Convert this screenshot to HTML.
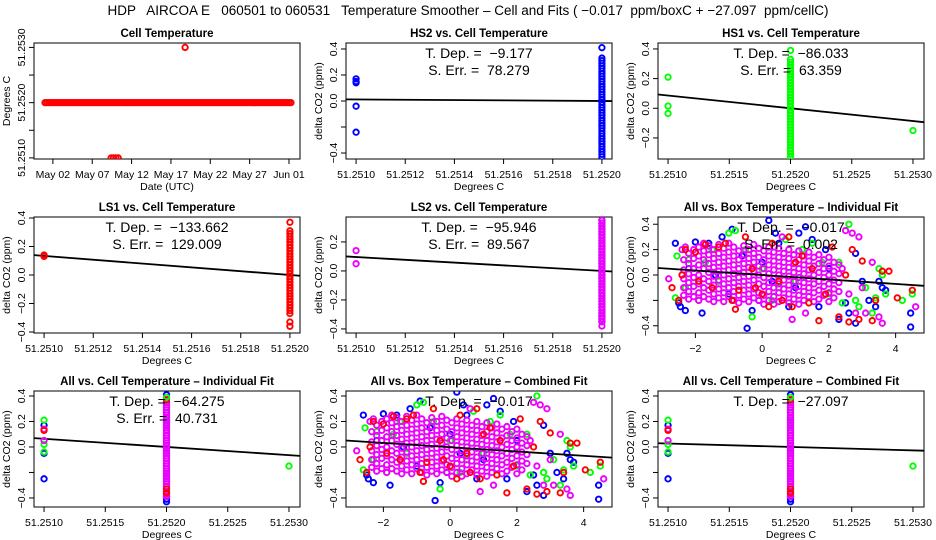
<!DOCTYPE html>
<html><head><meta charset="utf-8">
<style>
html,body{margin:0;padding:0;background:#fff;}
svg{display:block;font-family:"Liberation Sans",Arial,sans-serif;}
text{white-space:pre;}
</style></head>
<body>
<svg id="fig" width="936" height="540" viewBox="0 0 936 540">
<rect width="936" height="540" fill="#fff"/>
<text x="468" y="15" text-anchor="middle" font-size="13.5" fill="#000" xml:space="preserve">HDP   AIRCOA E   060501 to 060531   Temperature Smoother – Cell and Fits ( −0.017  ppm/boxC + −27.097  ppm/cellC)</text>
</svg>
<script>
// ---------- data ----------
const dateTickDays = [1,6,11,16,21,26,31];
const dateTickLabels = ["May 02","May 07","May 12","May 17","May 22","May 27","Jun 01"];
const cellDays = [0,0.5,1,1.5,2,2.5,3,3.5,4,4.5,5,5.5,6,6.5,7,7.5,8,8.5,9,9.5,10,10.5,11,11.5,12,12.5,13,13.5,14,14.5,15,15.5,16,16.5,17,17.5,18,18.5,19,19.5,20,20.5,21,21.5,22,22.5,23,23.5,24,24.5,25,25.5,26,26.5,27,27.5,28,28.5,29,29.5,30,30.5,31];
const cellVals = [51.252,51.252,51.252,51.252,51.252,51.252,51.252,51.252,51.252,51.252,51.252,51.252,51.252,51.252,51.252,51.252,51.252,51.252,51.252,51.252,51.252,51.252,51.252,51.252,51.252,51.252,51.252,51.252,51.252,51.252,51.252,51.252,51.252,51.252,51.252,51.252,51.252,51.252,51.252,51.252,51.252,51.252,51.252,51.252,51.252,51.252,51.252,51.252,51.252,51.252,51.252,51.252,51.252,51.252,51.252,51.252,51.252,51.252,51.252,51.252,51.252,51.252,51.252];
const cellExtraDays = [8.4,8.7,9.0,9.3,17.8];
const cellExtraVals = [51.251,51.251,51.251,51.251,51.253];

const bandY = [-0.43,-0.41,-0.39,-0.37,-0.35,-0.33,-0.31,-0.29,-0.27,-0.25,-0.23,-0.21,-0.19,-0.17,-0.15,-0.13,-0.11,-0.09,-0.07,-0.05,-0.03,-0.01,0.01,0.03,0.05,0.07,0.09,0.11,0.13,0.15,0.17,0.19,0.21,0.23,0.25,0.27,0.29,0.31,0.33,0.35];

const hs2Low = [0.17,0.15,0.14,-0.04,-0.24];
const hs1Low = [0.21,0.015,-0.035];
const hs1High = [-0.15];
const ls1Low = [0.14,0.13];
const ls2Low = [0.14,0.05];
const allLowBlue = [0.17,-0.05,-0.25];
const allLowGreen = [0.21,0.02,-0.04];
const allLowMag = [0.14,0.05];
const allLowRed = [0.13];

const bluePts = [[-2.6,0.25],[-2.5,-0.22],[-2.45,-0.25],[-2.3,-0.28],[-2,0.26],[-1.8,-0.3],[-1.6,0.25],[-1.2,0.3],[-0.9,0.36],[-0.45,-0.42],[-0.3,-0.28],[0.2,0.43],[0.4,0.33],[0.5,0.25],[1.1,0.33],[1.3,0.38],[1.5,0.28],[1.9,0.2],[2.3,-0.35],[2.5,-0.22],[2.8,0.17],[2.8,-0.38],[3.2,-0.2],[3.6,-0.1],[4.45,-0.3],[4.45,-0.41],[-0.1,-0.2],[0.8,-0.25],[1.7,-0.25],[-1.4,0.0],[0,0.1],[2.0,0.05],[3.0,-0.05],[-2.2,0.05],[1.0,-0.1],[-0.6,0.15],[0.3,-0.05],[2.6,-0.3],[3.4,-0.25],[-1.0,-0.15],[3.5,-0.05],[3.7,-0.12]];
const greenPts = [[-2.55,0.15],[-2.6,-0.18],[-2.2,0.12],[-1.9,-0.2],[-1.5,0.2],[-1.0,0.33],[-0.8,0.35],[-0.3,-0.33],[0.3,-0.2],[0.7,0.28],[1.5,0.25],[1.8,0.1],[2.6,0.4],[2.3,0.1],[2.8,-0.2],[3.1,-0.1],[3.3,-0.3],[3.5,0.05],[3.7,-0.15],[4.2,-0.2],[4.5,-0.15],[-2.3,-0.1],[-1.3,-0.05],[0,0.05],[1.0,-0.05],[2.0,-0.15],[-0.5,0.2],[1.2,0.2],[2.9,-0.25],[3.6,0],[-1.7,0.1],[0.5,-0.1],[2.4,-0.22],[3.4,-0.18]];
const redPts = [[-2.7,-0.1],[-2.5,-0.2],[-2.3,0.2],[-2.0,0.18],[-1.7,0.24],[-1.3,0.22],[-1.1,0.25],[-0.8,-0.27],[-0.5,0.3],[-0.3,0.05],[0,-0.15],[0.3,0.25],[0.6,-0.2],[0.9,-0.25],[1.2,0.15],[1.5,0.05],[1.7,-0.36],[2.1,0.22],[2.3,-0.33],[2.6,-0.37],[2.9,-0.35],[3.0,0.11],[3.3,-0.36],[3.6,0.03],[3.8,0.03],[4.05,-0.18],[4.5,-0.12],[-1.5,-0.1],[-0.9,-0.2],[0.5,-0.05],[1.9,-0.15],[2.5,0.0],[3.4,-0.2],[-2.4,0.0],[1.0,0.1],[-0.2,-0.1],[0.8,0.3],[2.7,0.2],[-0.7,-0.12],[1.4,-0.22],[0.2,-0.25],[-1.9,-0.05]];
const magOuter = [[-2.8,-0.03],[-2.4,0.2],[-2.3,0.22],[2.7,0.33],[2.9,0.3],[3.3,0.1],[3.6,-0.38],[4.6,-0.25],[3.1,-0.3],[2.8,-0.3],[0.9,-0.35],[1.3,-0.3],[0.6,0.3],[2.5,0.35],[3.5,-0.33],[2.6,-0.15],[3.0,-0.1],[2.4,0.05]];
const magColX = [-2.35,-2.2,-2.05,-1.9,-1.75,-1.6,-1.45,-1.3,-1.15,-1.0,-0.85,-0.7,-0.55,-0.4,-0.25,-0.1,0.05,0.2,0.35,0.5,0.65,0.8,0.95,1.1,1.25,1.4,1.55,1.7,1.85,2.0,2.15,2.3];
const magColY = [
 [0.12,0.04,-0.03,-0.1,-0.16],[0.17,0.09,0.01,-0.06,-0.13,-0.19],[0.2,0.13,0.05,-0.02,-0.09,-0.17],[0.22,0.15,0.08,0.0,-0.07,-0.14,-0.2],
 [0.19,0.12,0.05,-0.03,-0.1,-0.17,0.25],[0.23,0.16,0.09,0.02,-0.05,-0.12,-0.19],[0.2,0.13,0.06,-0.01,-0.08,-0.15,-0.21],[0.24,0.17,0.1,0.03,-0.04,-0.11,-0.18],
 [0.21,0.14,0.07,0.0,-0.07,-0.14,-0.21],[0.25,0.18,0.11,0.04,-0.03,-0.1,-0.17],[0.22,0.15,0.08,0.01,-0.06,-0.13,-0.2],[0.19,0.12,0.05,-0.02,-0.09,-0.16,-0.22],
 [0.23,0.16,0.09,0.02,-0.05,-0.12,-0.19],[0.2,0.13,0.06,-0.01,-0.08,-0.15,-0.21],[0.24,0.17,0.1,0.03,-0.04,-0.11,-0.18],[0.21,0.14,0.07,0.0,-0.07,-0.14,-0.2],
 [0.19,0.12,0.05,-0.02,-0.09,-0.16,-0.23],[0.22,0.15,0.08,0.01,-0.06,-0.13,-0.2],[0.18,0.11,0.04,-0.03,-0.1,-0.17,-0.23],[0.21,0.14,0.07,0.0,-0.07,-0.14,-0.21],
 [0.17,0.1,0.03,-0.04,-0.11,-0.18],[0.2,0.13,0.06,-0.01,-0.08,-0.15,-0.22],[0.16,0.09,0.02,-0.05,-0.12,-0.19],[0.19,0.12,0.05,-0.02,-0.09,-0.16,-0.23],
 [0.15,0.08,0.01,-0.06,-0.13,-0.2],[0.18,0.11,0.04,-0.03,-0.1,-0.17],[0.14,0.07,0.0,-0.07,-0.14,-0.21],[0.16,0.09,0.02,-0.05,-0.12,-0.19],
 [0.12,0.05,-0.02,-0.09,-0.16],[0.14,0.07,0.0,-0.07,-0.14,-0.21],[0.1,0.03,-0.04,-0.11,-0.18],[0.08,0.01,-0.06,-0.13]
];

// fit endpoints: [y at first x, y at second x]
const fitP2 = [0.012,0.0];
const fitP3 = [0.086,0.0];
const fitP4 = [0.134,0.0];
const fitP5 = [0.096,0.0];
const fitBox6 = [-0.0176,0.0];
const fitBox8 = [-0.0168,-0.002];
const fitP7 = [0.064,0.0];
const fitP9 = [0.027,0.0];

const cellTicks2 = [51.2510,51.2512,51.2514,51.2516,51.2518,51.2520];
const cellTicks3 = [51.2510,51.2515,51.2520,51.2525,51.2530];
const boxTicks = [-2,0,2,4];
const boxTickLabels = ["−2","0","2","4"];

// ---------- drawing ----------
const NS = "http://www.w3.org/2000/svg";
const svg = document.getElementById("fig");
const COLX = [34,346,658], ROWY = [43,217,391], PW = 266, PH = 116;
const BLUE="#0000ff", GREEN="#00ff00", RED="#ff0000", MAG="#ee00ff";

function el(tag, attrs, parent){
  const e = document.createElementNS(NS, tag);
  for (const k in attrs) e.setAttribute(k, attrs[k]);
  (parent||svg).appendChild(e);
  return e;
}

function makePanel(c, r, o){
  const L = COLX[c], T = ROWY[r];
  const g = el("g", {});
  
  
  const sx = v => L + (v - o.xlim[0])/(o.xlim[1]-o.xlim[0])*PW;
  const sy = v => T + PH - (v - o.ylim[0])/(o.ylim[1]-o.ylim[0])*PH;
  const t = el("text", {x:L+PW/2, y:T-6, "text-anchor":"middle", "font-size":"11.5", "font-weight":"bold"}, g);
  t.textContent = o.title;
  
  
  const b = el("rect", {x:L, y:T, width:PW, height:PH, fill:"none", stroke:"#000", "stroke-width":1}, g);
  
  
  const xa = el("g", {}, g);
  
  
  o.xticks.forEach((v,i)=>{
    const x = sx(v);
    el("line", {x1:x, x2:x, y1:T+PH, y2:T+PH+5, stroke:"#000"}, xa);
    const tl = el("text", {x:x, y:T+PH+19, "text-anchor":"middle", "font-size":"10.5"}, xa);
    tl.textContent = o.xlabels[i];
    
    
  });
  const xt = el("text", {x:L+PW/2, y:T+PH+31, "text-anchor":"middle", "font-size":"10.5"}, g);
  xt.textContent = o.xtitle;
  
  
  const ya = el("g", {}, g);
  
  
  o.yticks.forEach((v,i)=>{
    const y = sy(v);
    el("line", {x1:L-5, x2:L, y1:y, y2:y, stroke:"#000"}, ya);
    if (o.ylabels[i]) {
      const tl = el("text", {x:L-9, y:y, "text-anchor":"middle", "font-size":"10.5", transform:`rotate(-90 ${L-9} ${y})`}, ya);
      tl.textContent = o.ylabels[i];
      
      
    }
  });
  const yt = el("text", {x:L-24, y:T+PH/2, "text-anchor":"middle", "font-size":"10.5", transform:`rotate(-90 ${L-24} ${T+PH/2})`}, g);
  yt.textContent = o.ytitle;
  
  
  const cid = "clip"+c+r;
  const cp = el("clipPath", {id:cid}, g);
  el("rect", {x:L, y:T, width:PW, height:PH}, cp);
  const pg = el("g", {"clip-path":`url(#${cid})`}, g);
  
  
  return {g, pg, sx, sy, L, T, xlim:o.xlim};
}
function pt(P, x, y, col, name){
  const cc = el("circle", {cx:P.sx(x), cy:P.sy(y), r:2.7, fill:"none", stroke:col, "stroke-width":1.9}, P.pg);
  
  
}
function band(P, x, lo, hi, col){
  bandY.forEach(v => { if (v>=lo && v<=hi) pt(P, x, v, col, 'band-point'); });
}
// line through (xa,ya),(xb,yb), extended over the whole x range
function fitLine(P, xa, ya, xb, yb){
  const s = (yb-ya)/(xb-xa);
  const x1 = P.xlim[0], x2 = P.xlim[1];
  const ln = el("line", {x1:P.sx(x1), y1:P.sy(ya+s*(x1-xa)), x2:P.sx(x2), y2:P.sy(ya+s*(x2-xa)), stroke:"#000", "stroke-width":1.8}, P.pg);
  
  
}
function stat(P, lines){
  lines.forEach((s,i)=>{
    const t = el("text", {x:P.L+PW/2, y:P.T+15+i*17, "text-anchor":"middle", "font-size":"14"}, P.g);
    t.textContent = s;
    
    
  });
}
const CX2 = [51.250959, 51.252041], CX3 = [51.250918, 51.25309];
const dyT = [-0.4,-0.2,0,0.2,0.4];
const c2lab = cellTicks2.map(v=>v.toFixed(4)), c3lab = cellTicks3.map(v=>v.toFixed(4));

{
  const P = makePanel(0,0,{name:"cell-temperature-panel", title:"Cell Temperature", xlim:[-1.4,32.4], ylim:[51.25098,51.25308],
    xticks:dateTickDays, xlabels:dateTickLabels, xtitle:"Date (UTC)", yticks:[51.251,51.2515,51.252,51.2525,51.253],
    ylabels:["51.2510","","51.2520","","51.2530"], ytitle:"Degrees C"});
  cellDays.forEach((d,i)=>{ pt(P, d, cellVals[i], RED, 'cell-temp-point'); pt(P, d+0.25, cellVals[i], RED, 'cell-temp-point'); });
  cellExtraDays.forEach((d,i)=> pt(P, d, cellExtraVals[i], RED, 'cell-temp-point'));
}
{
  const P = makePanel(1,0,{name:"hs2-panel", title:"HS2 vs. Cell Temperature", xlim:CX2, ylim:[-0.446,0.446],
    xticks:cellTicks2, xlabels:c2lab, xtitle:"Degrees C", yticks:dyT, ylabels:["−0.4","","0.0","0.2","0.4"], ytitle:"delta CO2 (ppm)"});
  fitLine(P, 51.251, fitP2[0], 51.252, fitP2[1]);
  hs2Low.forEach(v=>pt(P,51.251,v,BLUE,'hs2-point'));
  band(P,51.252,-0.43,0.34,BLUE); pt(P,51.252,0.41,BLUE,'hs2-point');
  stat(P, ["T. Dep. =  −9.177","S. Err. =  78.279"]);
}
{
  const P = makePanel(2,0,{name:"hs1-panel", title:"HS1 vs. Cell Temperature", xlim:CX3, ylim:[-0.342,0.44],
    xticks:cellTicks3, xlabels:c3lab, xtitle:"Degrees C", yticks:[-0.2,0,0.2,0.4], ylabels:["−0.2","0.0","0.2","0.4"], ytitle:"delta CO2 (ppm)"});
  fitLine(P, 51.251, fitP3[0], 51.252, fitP3[1]);
  hs1Low.forEach(v=>pt(P,51.251,v,GREEN,'hs1-point'));
  hs1High.forEach(v=>pt(P,51.253,v,GREEN,'hs1-point'));
  band(P,51.252,-0.33,0.34,GREEN); pt(P,51.252,0.39,GREEN,'hs1-point');
  stat(P, ["T. Dep. =  −86.033","S. Err. =  63.359"]);
}
{
  const P = makePanel(0,1,{name:"ls1-panel", title:"LS1 vs. Cell Temperature", xlim:CX2, ylim:[-0.407,0.407],
    xticks:cellTicks2, xlabels:c2lab, xtitle:"Degrees C", yticks:dyT, ylabels:["−0.4","−0.2","0.0","0.2","0.4"], ytitle:"delta CO2 (ppm)"});
  fitLine(P, 51.251, fitP4[0], 51.252, fitP4[1]);
  ls1Low.forEach(v=>pt(P,51.251,v,RED,'ls1-point'));
  band(P,51.252,-0.28,0.31,RED); [-0.33,-0.36,0.37].forEach(v=>pt(P,51.252,v,RED,'ls1-point'));
  stat(P, ["T. Dep. =  −133.662","S. Err. =  129.009"]);
}
{
  const P = makePanel(1,1,{name:"ls2-panel", title:"LS2 vs. Cell Temperature", xlim:CX2, ylim:[-0.428,0.372],
    xticks:cellTicks2, xlabels:c2lab, xtitle:"Degrees C", yticks:[-0.4,-0.2,0,0.2], ylabels:["−0.4","−0.2","0.0","0.2"], ytitle:"delta CO2 (ppm)"});
  fitLine(P, 51.251, fitP5[0], 51.252, fitP5[1]);
  ls2Low.forEach(v=>pt(P,51.251,v,MAG,'ls2-point'));
  band(P,51.252,-0.35,0.35,BLUE); band(P,51.252,-0.35,0.35,MAG); pt(P,51.252,-0.38,MAG,'ls2-point');
  stat(P, ["T. Dep. =  −95.946","S. Err. =  89.567"]);
}
function boxScatter(P){
  bluePts.forEach(p=>pt(P,p[0],p[1],BLUE,'blue-point'));
  greenPts.forEach(p=>pt(P,p[0],p[1],GREEN,'green-point'));
  magColX.forEach((x,i)=>magColY[i].forEach(y=>pt(P,x,y,MAG,'magenta-point')));
  magOuter.forEach(p=>pt(P,p[0],p[1],MAG,'magenta-point'));
  redPts.forEach(p=>pt(P,p[0],p[1],RED,'red-point'));
}
const BX = [-3.12,4.85];
{
  const P = makePanel(2,1,{name:"all-box-individual-panel", title:"All vs. Box Temperature – Individual Fit", xlim:BX, ylim:[-0.457,0.457],
    xticks:boxTicks, xlabels:boxTickLabels, xtitle:"Degrees C", yticks:dyT, ylabels:["−0.4","","0.0","0.2","0.4"], ytitle:"delta CO2 (ppm)"});
  boxScatter(P);
  fitLine(P, 0, fitBox6[1], 1, fitBox6[1]+fitBox6[0]);
  stat(P, ["T. Dep. =  −0.017","S. Err. =  0.002"]);
}
{
  const P = makePanel(0,2,{name:"all-cell-individual-panel", title:"All vs. Cell Temperature – Individual Fit", xlim:CX3, ylim:[-0.471,0.439],
    xticks:cellTicks3, xlabels:c3lab, xtitle:"Degrees C", yticks:dyT, ylabels:["−0.4","","0.0","0.2","0.4"], ytitle:"delta CO2 (ppm)"});
  fitLine(P, 51.251, fitP7[0], 51.252, fitP7[1]);
  allLowBlue.forEach(v=>pt(P,51.251,v,BLUE,'blue-point'));
  allLowGreen.forEach(v=>pt(P,51.251,v,GREEN,'green-point'));
  allLowMag.forEach(v=>pt(P,51.251,v,MAG,'magenta-point'));
  allLowRed.forEach(v=>pt(P,51.251,v,RED,'red-point'));
  band(P,51.252,-0.43,0.35,BLUE); pt(P,51.252,0.41,BLUE,'blue-point');
  band(P,51.252,-0.39,0.35,MAG); [-0.33,-0.36,0.37].forEach(v=>pt(P,51.252,v,RED,'red-point')); pt(P,51.252,0.39,GREEN,'green-point');
  pt(P,51.253,-0.15,GREEN,'green-point');
  stat(P, ["T. Dep. =  −64.275","S. Err. =  40.731"]);
}
{
  const P = makePanel(1,2,{name:"all-box-combined-panel", title:"All vs. Box Temperature – Combined Fit", xlim:BX, ylim:[-0.471,0.439],
    xticks:boxTicks, xlabels:boxTickLabels, xtitle:"Degrees C", yticks:dyT, ylabels:["−0.4","","0.0","0.2","0.4"], ytitle:"delta CO2 (ppm)"});
  boxScatter(P);
  fitLine(P, 0, fitBox8[1], 1, fitBox8[1]+fitBox8[0]);
  stat(P, ["T. Dep. =  −0.017"]);
}
{
  const P = makePanel(2,2,{name:"all-cell-combined-panel", title:"All vs. Cell Temperature – Combined Fit", xlim:CX3, ylim:[-0.471,0.439],
    xticks:cellTicks3, xlabels:c3lab, xtitle:"Degrees C", yticks:dyT, ylabels:["−0.4","","0.0","0.2","0.4"], ytitle:"delta CO2 (ppm)"});
  fitLine(P, 51.251, fitP9[0], 51.252, fitP9[1]);
  allLowBlue.forEach(v=>pt(P,51.251,v,BLUE,'blue-point'));
  allLowGreen.forEach(v=>pt(P,51.251,v,GREEN,'green-point'));
  allLowMag.forEach(v=>pt(P,51.251,v,MAG,'magenta-point'));
  allLowRed.forEach(v=>pt(P,51.251,v,RED,'red-point'));
  band(P,51.252,-0.43,0.35,BLUE); pt(P,51.252,0.41,BLUE,'blue-point');
  band(P,51.252,-0.39,0.35,MAG); [-0.33,-0.36,0.37].forEach(v=>pt(P,51.252,v,RED,'red-point')); pt(P,51.252,0.39,GREEN,'green-point');
  pt(P,51.253,-0.15,GREEN,'green-point');
  stat(P, ["T. Dep. =  −27.097"]);
}
</script>
</body></html>
